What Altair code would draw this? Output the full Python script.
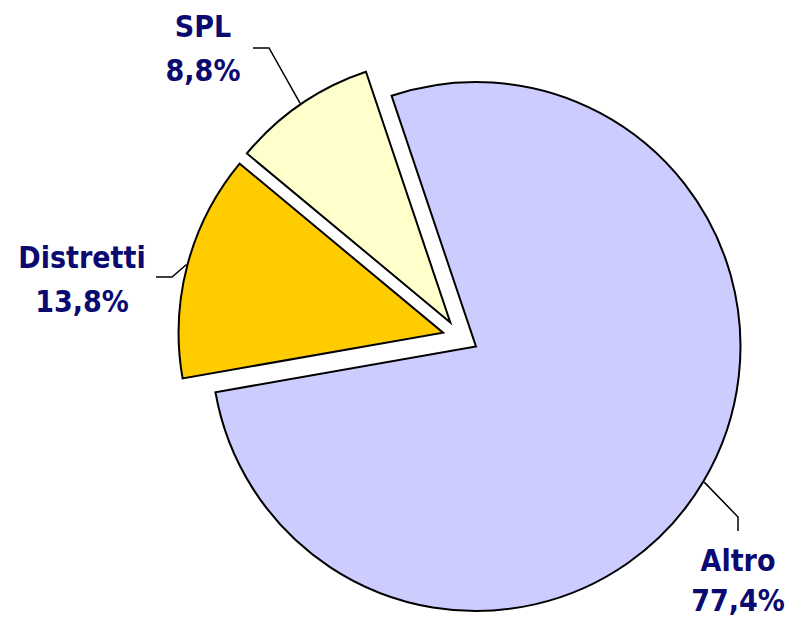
import math
import altair as alt
import pandas as pd

# ---- data ----
categories = ["Altro", "Distretti", "SPL"]
shares = [77.4, 13.8, 8.8]
share_labels = ["77,4%", "13,8%", "8,8%"]
colors = ["#CCCCFF", "#FFCC00", "#FFFFCC"]

# ---- layout (pixels in chart space) ----
W, H = 786, 609
CX, CY = 452.5, 329.3
R = 264.5
START_DEG = -18.6
EXPLODE = [18, 18, 18]
# label anchors: (x, name baseline, pct baseline)
LABEL_POS = {"Altro": (730, 563, 603), "Distretti": (74, 260, 304), "SPL": (195, 29, 73)}
# leader-line elbow and end points
LEADER = {
    "Altro": [(730, 509), (730, 523)],
    "Distretti": [(164, 269), (148, 269)],
    "SPL": [(261, 40), (245, 40)],
}
TEXT_COLOR = "#0A0A70"

start = math.radians(START_DEG)
total = sum(shares)
rows, lead_rows, text_rows = [], [], []
cum = 0.0
for cat, v, lab, e in zip(categories, shares, share_labels, EXPLODE):
    c0, c1 = cum, cum + v
    cum = c1
    mid = start + 2 * math.pi * (c0 + c1) / 2 / total
    px = CX + e * math.sin(mid)
    py = CY - e * math.cos(mid)
    rows.append({"cat": cat, "c0": c0, "c1": c1, "px": px, "py": py})
    ex = px + (R + 1) * math.sin(mid)
    ey = py - (R + 1) * math.cos(mid)
    pts = [(ex, ey)] + LEADER[cat]
    for i, (x, y) in enumerate(pts):
        lead_rows.append({"cat": cat, "i": i, "x": x, "y": y})
    lx, ny, py2 = LABEL_POS[cat]
    text_rows.append({"cat": cat, "t": cat, "x": lx, "y": ny})
    text_rows.append({"cat": cat, "t": lab, "x": lx, "y": py2})

slices = pd.DataFrame(rows)
leaders = pd.DataFrame(lead_rows)
texts = pd.DataFrame(text_rows)

pie = alt.Chart(slices).mark_arc(radius=R, stroke="black", strokeWidth=2).encode(
    x=alt.X("px:Q", scale=None, axis=None),
    y=alt.Y("py:Q", scale=None, axis=None),
    theta=alt.Theta("c0:Q", scale=alt.Scale(domain=[0, total], range=[start, start + 2 * math.pi])),
    theta2="c1:Q",
    color=alt.Color("cat:N", scale=alt.Scale(domain=categories, range=colors), legend=None),
)

lines = alt.Chart(leaders).mark_line(color="black", strokeWidth=1.5).encode(
    x=alt.X("x:Q", scale=None, axis=None),
    y=alt.Y("y:Q", scale=None, axis=None),
    detail="cat:N",
    order="i:Q",
)

labels = alt.Chart(texts).mark_text(
    font="DejaVu Sans Condensed", fontSize=30, fontWeight="bold", color=TEXT_COLOR,
    align="center", baseline="alphabetic",
).encode(
    x=alt.X("x:Q", scale=None, axis=None),
    y=alt.Y("y:Q", scale=None, axis=None),
    text="t:N",
)

chart = alt.layer(pie, lines, labels).properties(
    width=W, height=H, padding=0, autosize=alt.AutoSizeParams(type="none")
).configure_view(stroke=None)

chart.save("out.html", embed_options={"renderer": "svg", "actions": False})
